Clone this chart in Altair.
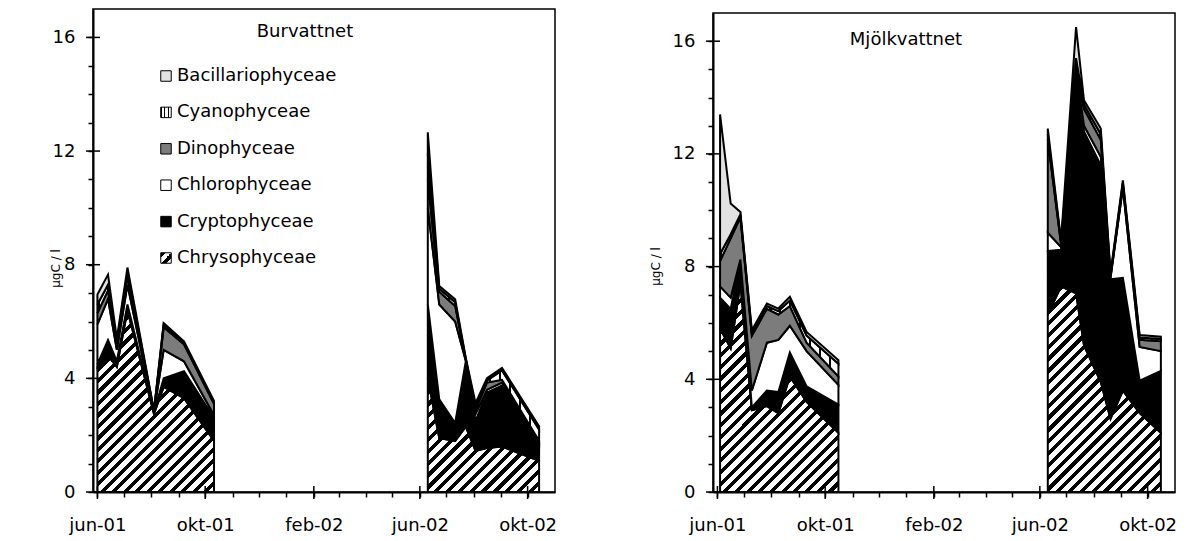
import math
import altair as alt
import pandas as pd

FONT = "DejaVu Sans"

SPECIES = ["Chrysophyceae", "Cryptophyceae", "Chlorophyceae",
           "Dinophyceae", "Cyanophyceae", "Bacillariophyceae"]

# ---- Burvattnet -------------------------------------------------------
burv_dates = ["2001-06-01", "2001-06-13", "2001-06-23", "2001-07-05", "2001-08-04",
              "2001-08-15", "2001-09-07", "2001-10-11",
              "2002-06-10", "2002-06-23", "2002-07-11", "2002-07-23", "2002-08-03",
              "2002-08-16", "2002-09-02", "2002-10-14"]
burv_chryso = [4.4, 4.8, 4.4, 6.4, 2.75, 3.7, 3.3, 1.8, 4.0, 1.9, 1.8, 2.3, 1.45, 1.55, 1.6, 1.1]
burv_crypto = [0.1, 0.55, 0.2, 0.2, 0.05, 0.3, 0.95, 0.8, 2.6, 1.36, 0.63, 2.3, 1.05, 1.95, 2.15, 0.55]
burv_chloro = [1.4, 1.45, 0.4, 0.7, 0.02, 1.0, 0.35, 0.1, 3.4, 3.34, 3.57, 0.02, 0.25, 0.1, 0.1, 0.07]
burv_dino = [0.4, 0.3, 0.2, 0.3, 0.02, 0.8, 0.6, 0.4, 1.0, 0.45, 0.55, 0.04, 0.15, 0.25, 0.1, 0.08]
burv_cyano = [0.3, 0.2, 0.1, 0.15, 0.01, 0.1, 0.05, 0.05, 0.9, 0.1, 0.13, 0.03, 0.1, 0.08, 0.33, 0.4]
burv_bacill = [0.35, 0.35, 0.1, 0.15, 0.01, 0.05, 0.05, 0.05, 0.76, 0.1, 0.1, 0.03, 0.13, 0.08, 0.09, 0.11]

# ---- Mjölkvattnet -----------------------------------------------------
mjolk_dates = ["2001-06-04", "2001-06-16", "2001-06-27", "2001-07-10", "2001-07-27",
               "2001-08-09", "2001-08-22", "2001-09-10", "2001-10-16",
               "2002-06-10", "2002-06-25", "2002-07-12", "2002-07-21", "2002-08-09",
               "2002-08-20", "2002-09-03", "2002-09-22", "2002-10-16"]
mjolk_chryso = [5.8, 5.1, 7.4, 2.9, 3.05, 2.8, 4.1, 3.2, 2.1, 6.3, 7.3, 7.05, 5.2, 3.9, 2.6, 3.6, 2.8, 2.1]
mjolk_crypto = [1.1, 1.4, 0.8, 0.1, 0.55, 0.75, 0.85, 0.55, 1.0, 2.25, 1.3, 7.8, 7.6, 7.7, 4.95, 4.0, 1.15, 2.2]
mjolk_chloro = [0.4, 0.4, 0.05, 0.6, 1.7, 1.85, 0.95, 1.25, 0.7, 0.65, 0.1, 0.15, 0.2, 0.3, 0.05, 3.2, 1.2, 0.7]
mjolk_dino = [0.9, 2.1, 1.5, 1.95, 1.2, 0.9, 0.7, 0.3, 0.3, 3.3, 0.1, 0.2, 0.6, 0.6, 0.05, 0.1, 0.25, 0.35]
mjolk_cyano = [0.25, 0.15, 0.1, 0.1, 0.1, 0.12, 0.2, 0.25, 0.45, 0.2, 0.07, 0.2, 0.15, 0.2, 0.05, 0.08, 0.08, 0.08]
mjolk_bacill = [4.95, 1.09, 0.09, 0.09, 0.09, 0.09, 0.13, 0.13, 0.13, 0.2, 0.07, 1.1, 0.15, 0.2, 0.06, 0.08, 0.09, 0.08]

# ---- axis text --------------------------------------------------------
MAJOR_MONTHS = ["2001-06", "2001-10", "2002-02", "2002-06", "2002-10"]
MAJOR_LABELS = ["jun-01", "okt-01", "feb-02", "jun-02", "okt-02"]
Y_MAJOR = [0, 4, 8, 12, 16]
Y_LABELS = ["0", "4", "8", "12", "16"]
Y_TITLE = "µgC / l"

# ---- layout / style ---------------------------------------------------
X_START = alt.DateTime(year=2001, month=5, date=27, utc=True)
X_END = alt.DateTime(year=2002, month=11, date=1, utc=True)
DOMAIN_DAYS = (pd.Timestamp("2002-11-01") - pd.Timestamp("2001-05-27")).days
Y_MAX = 17


def long_frame(dates, cols):
    rows = []
    for i, d in enumerate(dates):
        for k, sp in enumerate(SPECIES):
            rows.append({"date": d, "year": int(d[:4]), "species": sp,
                         "order": k, "value": cols[k][i]})
    return pd.DataFrame(rows)


def stripes(x2, y2, n, duty, dark="black", light="white"):
    stops = []
    for i in range(n):
        a = round(i / n, 5)
        b = round((i + duty) / n, 5)
        e = round((i + 1) / n, 5)
        stops += [{"offset": a, "color": dark}, {"offset": b, "color": dark},
                  {"offset": b, "color": light}, {"offset": e, "color": light}]
    return {"gradient": "linear", "x1": 0, "y1": 0, "x2": x2, "y2": y2, "stops": stops}


def diag(w, h, spacing=8.2, duty=0.45):
    c = (w + h) / (w * w + h * h)
    n = max(1, round((w + h) / (spacing * math.sqrt(2))))
    return stripes(round(c * w, 5), round(c * h, 5), n, duty)


def vert(w, spacing=10, duty=0.22):
    n = max(1, round(w / spacing))
    return stripes(1, 0, n, duty)


PLAIN = {"Cryptophyceae": "black", "Chlorophyceae": "white",
         "Dinophyceae": "#7c7c7c", "Bacillariophyceae": "#e2e2e2"}


def fill_for(sp, w, h):
    if sp == "Chrysophyceae":
        return diag(w, h)
    if sp == "Cyanophyceae":
        return vert(w)
    return PLAIN[sp]


def x_axis():
    vals = []
    for y in (2001, 2002):
        for m in range(1, 13):
            if (y == 2001 and m >= 6) or (y == 2002 and m <= 10):
                vals.append(alt.DateTime(year=y, month=m, date=1, utc=True))
    expr = "".join(f"utcFormat(datum.value, '%Y-%m') == '{m}' ? '{l}' : "
                   for m, l in zip(MAJOR_MONTHS, MAJOR_LABELS)) + "''"
    return alt.Axis(values=vals, labelExpr=expr, title=None, tickSize=5,
                    tickWidth=1.5, domainWidth=2, labelPadding=19,
                    labelOverlap=False, labelFlush=False, grid=False)


def y_axis(title_x, title_y):
    expr = "".join(f"datum.value == {v} ? '{l}' : "
                   for v, l in zip(Y_MAJOR, Y_LABELS)) + "''"
    return alt.Axis(values=list(range(0, 17)), labelExpr=expr, title=Y_TITLE,
                    tickSize=5, tickWidth=1.5, domainWidth=2, labelPadding=13,
                    labelOverlap=False, labelFlush=False, grid=False,
                    titleFontSize=12, titleFont=FONT, titleFontWeight="normal",
                    titleX=title_x, titleY=title_y)


def panel(df, W, H, title, title_xy, ytitle_xy, legend=False):
    pxd = W / DOMAIN_DAYS
    pxu = H / Y_MAX
    xs = alt.Scale(domain=[X_START, X_END])
    ys = alt.Scale(domain=[0, Y_MAX], nice=False)
    xa, ya = x_axis(), y_axis(*ytitle_xy)
    base = alt.Chart(df).transform_stack(
        stack="value", as_=["y0", "y1"], groupby=["date"],
        sort=[alt.SortField("order", order="ascending")])
    layers = []
    for k, sp in enumerate(SPECIES):
        for yr in (2001, 2002):
            seg = df[(df.year == yr)]
            d = pd.to_datetime(seg.date)
            w = (d.max() - d.min()).days * pxd
            h = seg[seg.species == sp].value.max() * pxu
            layers.append(
                base.transform_filter(
                    (alt.datum.species == sp) & (alt.datum.year == yr)
                ).mark_area(fill=fill_for(sp, w, h), stroke="black",
                            strokeWidth=2, interpolate="linear").encode(
                    x=alt.X("date:T", scale=xs, axis=xa),
                    y=alt.Y("y1:Q", scale=ys, axis=ya),
                    y2="y0:Q"))
    # major ticks crossing the axes
    xt = pd.DataFrame({"d": [m + "-01" for m in MAJOR_MONTHS]})
    layers.append(alt.Chart(xt).mark_rule(color="black", strokeWidth=1.5).encode(
        x=alt.X("d:T", scale=xs, axis=xa), y=alt.value(H - 6), y2=alt.value(H + 7)))
    yt = pd.DataFrame({"v": Y_MAJOR})
    layers.append(alt.Chart(yt).mark_rule(color="black", strokeWidth=1.5).encode(
        y=alt.Y("v:Q", scale=ys, axis=ya), x=alt.value(-7), x2=alt.value(7)))
    # panel title
    layers.append(alt.Chart(pd.DataFrame({"t": [title]})).mark_text(
        font=FONT, fontSize=18, align="center", baseline="middle", color="black").encode(
        text="t:N", x=alt.value(title_xy[0]), y=alt.value(title_xy[1])))
    if legend:
        for i, sp in enumerate(reversed(SPECIES)):
            yy = 67 + i * 36.4
            if sp == "Chrysophyceae":
                f = stripes(1, 1, 2, 0.5)
            elif sp == "Cyanophyceae":
                f = stripes(1, 0, 3, 0.25)
            else:
                f = PLAIN[sp]
            ld = pd.DataFrame({"name": [sp]})
            layers.append(alt.Chart(ld).mark_square(
                size=110, fill=f, stroke="black", strokeWidth=1, opacity=1).encode(
                x=alt.value(73), y=alt.value(yy)))
            layers.append(alt.Chart(ld).mark_text(
                font=FONT, fontSize=18, align="left", baseline="middle", color="black").encode(
                text="name:N", x=alt.value(84), y=alt.value(yy)))
    return alt.layer(*layers).properties(width=W, height=H)


burv = long_frame(burv_dates, [burv_chryso, burv_crypto, burv_chloro,
                               burv_dino, burv_cyano, burv_bacill])
mjolk = long_frame(mjolk_dates, [mjolk_chryso, mjolk_crypto, mjolk_chloro,
                                 mjolk_dino, mjolk_cyano, mjolk_bacill])

left = panel(burv, 462, 483, "Burvattnet", (212, 23), (-31, 259), legend=True)
right = panel(mjolk, 462, 479, "Mjölkvattnet", (193, 27), (-51, 253))

spacer = alt.Chart(pd.DataFrame({"a": [0]})).mark_rule(strokeOpacity=0).encode(
    x=alt.value(0), x2=alt.value(1), y=alt.value(0)
).properties(width=462, height=2, view=alt.ViewBackground(stroke="transparent"))

right_col = alt.vconcat(spacer, right, spacing=0)

chart = alt.hconcat(left, right_col, spacing=90).properties(
    padding={"left": 48, "top": 8, "right": 5, "bottom": 5},
    background="white",
).configure_view(stroke="black", strokeWidth=1.5).configure_axis(
    labelFont=FONT, labelFontSize=18, labelColor="black",
    domainColor="black", tickColor="black", titleColor="black",
)

chart.save("out.html", embed_options={"renderer": "svg", "actions": False})
